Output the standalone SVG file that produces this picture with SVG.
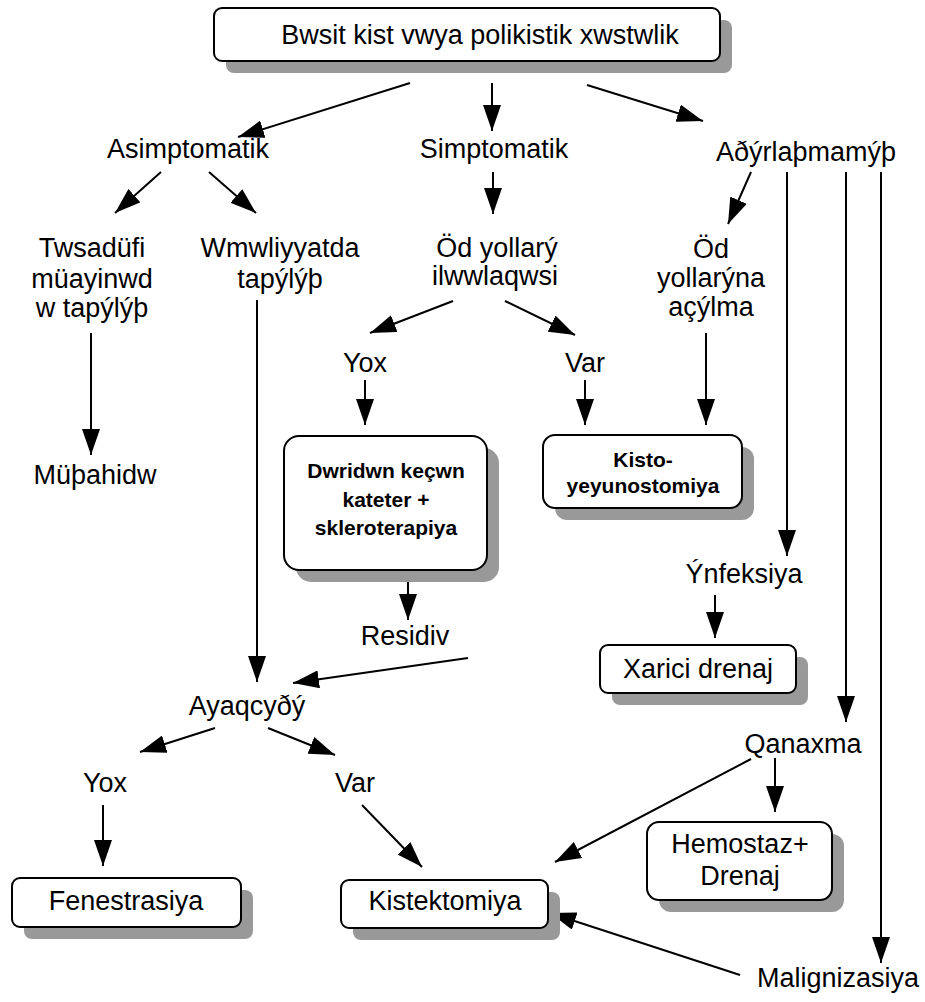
<svg xmlns="http://www.w3.org/2000/svg" width="925" height="1002" viewBox="0 0 925 1002">
<defs>
<marker id="ah" viewBox="0 0 26 18" refX="26" refY="9" markerWidth="26" markerHeight="18" markerUnits="userSpaceOnUse" orient="auto">
<path d="M0,0 L26,9 L0,18 Z" fill="#000"/>
</marker>
</defs>
<style>
text{font-family:"Liberation Sans",Arial,sans-serif;font-size:27px;fill:#000;text-anchor:middle}
.b{font-weight:bold;font-size:21px}
.box{fill:#fff;stroke:#000;stroke-width:2}
.sh{fill:#999;stroke:none}
.c line{stroke:#000;stroke-width:2}
.a{marker-end:url(#ah)}
</style>
<rect width="925" height="1002" fill="#fff"/>
<g class="c" id="connectors">
<line class="a" x1="410" y1="83" x2="238" y2="137"/>
<line class="a" x1="492" y1="83" x2="492" y2="131"/>
<line class="a" x1="587" y1="85" x2="703" y2="121"/>
<line class="a" x1="161" y1="172" x2="115" y2="213"/>
<line class="a" x1="209" y1="172" x2="256" y2="213"/>
<line class="a" x1="493" y1="172" x2="493" y2="214"/>
<line class="a" x1="751" y1="172" x2="728" y2="224"/>
<line class="a" x1="787" y1="172" x2="787" y2="556"/>
<line class="a" x1="846" y1="172" x2="846" y2="722"/>
<line class="a" x1="881" y1="172" x2="881" y2="963"/>
<line class="a" x1="91" y1="333" x2="91" y2="455"/>
<line class="a" x1="257" y1="300" x2="257" y2="682"/>
<line class="a" x1="453" y1="301" x2="370" y2="333"/>
<line class="a" x1="505" y1="301" x2="575" y2="335"/>
<line class="a" x1="365" y1="380" x2="365" y2="425"/>
<line class="a" x1="585" y1="380" x2="585" y2="425"/>
<line class="a" x1="706" y1="333" x2="706" y2="425"/>
<line class="a" x1="408" y1="578" x2="408" y2="620"/>
<line class="a" x1="468" y1="658" x2="293" y2="683"/>
<line class="a" x1="715" y1="595" x2="715" y2="638"/>
<line class="a" x1="215" y1="728" x2="140" y2="752"/>
<line class="a" x1="268" y1="728" x2="335" y2="755"/>
<line class="a" x1="103" y1="805" x2="103" y2="866"/>
<line class="a" x1="362" y1="805" x2="422" y2="867"/>
<line class="a" x1="775" y1="758" x2="775" y2="812"/>
<line class="a" x1="751" y1="759" x2="555" y2="862"/>
<line class="a" x1="740" y1="975" x2="550" y2="913"/>
</g>
<g id="n-title">
<rect class="sh" x="226" y="20" width="506" height="53" rx="8"/>
<rect class="box" x="214" y="8" width="506" height="53" rx="8"/>
<text x="480" y="44" font-size="29">Bwsit kist vwya polikistik xwstwlik</text>
</g>
<g id="n-asimp"><text x="188" y="158">Asimptomatik</text></g>
<g id="n-simp"><text x="494" y="158">Simptomatik</text></g>
<g id="n-agir"><text x="806" y="161">Aðýrlaþmamýþ</text></g>
<g id="n-tesadufi">
<text x="92" y="257">Twsadüfi</text>
<text x="92" y="288">müayinwd</text>
<text x="92" y="317">w tapýlýþ</text>
</g>
<g id="n-emeliyyat">
<text x="280" y="257">Wmwliyyatda</text>
<text x="280" y="288">tapýlýþ</text>
</g>
<g id="n-od"><text x="497" y="257">Öd yollarý</text><text x="495" y="285">ilwwlaqwsi</text></g>
<g id="n-odac"><text x="711" y="258">Öd</text><text x="711" y="287">yollarýna</text><text x="711" y="316">açýlma</text></g>
<g id="n-muse"><text x="95" y="484">Müþahidw</text></g>
<g id="n-yox1"><text x="365" y="372">Yox</text></g>
<g id="n-var1"><text x="585" y="372">Var</text></g>
<g id="n-dri">
<rect class="sh" x="296" y="448" width="203" height="134" rx="15"/>
<rect class="box" x="284" y="436" width="203" height="134" rx="15"/>
<text class="b" x="386" y="478">Dwridwn keçwn</text>
<text class="b" x="386" y="507">kateter +</text>
<text class="b" x="386" y="535">skleroterapiya</text>
</g>
<g id="n-kisto">
<rect class="sh" x="555" y="447" width="199" height="73" rx="12"/>
<rect class="box" x="543" y="435" width="199" height="73" rx="12"/>
<text class="b" x="643" y="467">Kisto-</text>
<text class="b" x="643" y="493">yeyunostomiya</text>
</g>
<g id="n-residiv"><text x="405" y="645">Residiv</text></g>
<g id="n-infek"><text x="744" y="583">Ýnfeksiya</text></g>
<g id="n-xarici">
<rect class="sh" x="612" y="657" width="196" height="48" rx="8"/>
<rect class="box" x="600" y="645" width="196" height="48" rx="8"/>
<text x="698" y="678">Xarici drenaj</text>
</g>
<g id="n-ayaq"><text x="247" y="715">Ayaqcyðý</text></g>
<g id="n-yox2"><text x="105" y="792">Yox</text></g>
<g id="n-var2"><text x="355" y="792">Var</text></g>
<g id="n-qanaxma"><text x="803" y="753">Qanaxma</text></g>
<g id="n-fene">
<rect class="sh" x="24" y="890" width="229" height="49" rx="8"/>
<rect class="box" x="12" y="878" width="229" height="49" rx="8"/>
<text x="126" y="910">Fenestrasiya</text>
</g>
<g id="n-kistek">
<rect class="sh" x="353" y="892" width="207" height="48" rx="8"/>
<rect class="box" x="341" y="880" width="207" height="48" rx="8"/>
<text x="445" y="910">Kistektomiya</text>
</g>
<g id="n-hemo">
<rect class="sh" x="659" y="834" width="185" height="78" rx="12"/>
<rect class="box" x="647" y="822" width="185" height="78" rx="12"/>
<text x="740" y="853">Hemostaz+</text>
<text x="740" y="885">Drenaj</text>
</g>
<g id="n-malig"><text x="838" y="987">Malignizasiya</text></g>
</svg>
